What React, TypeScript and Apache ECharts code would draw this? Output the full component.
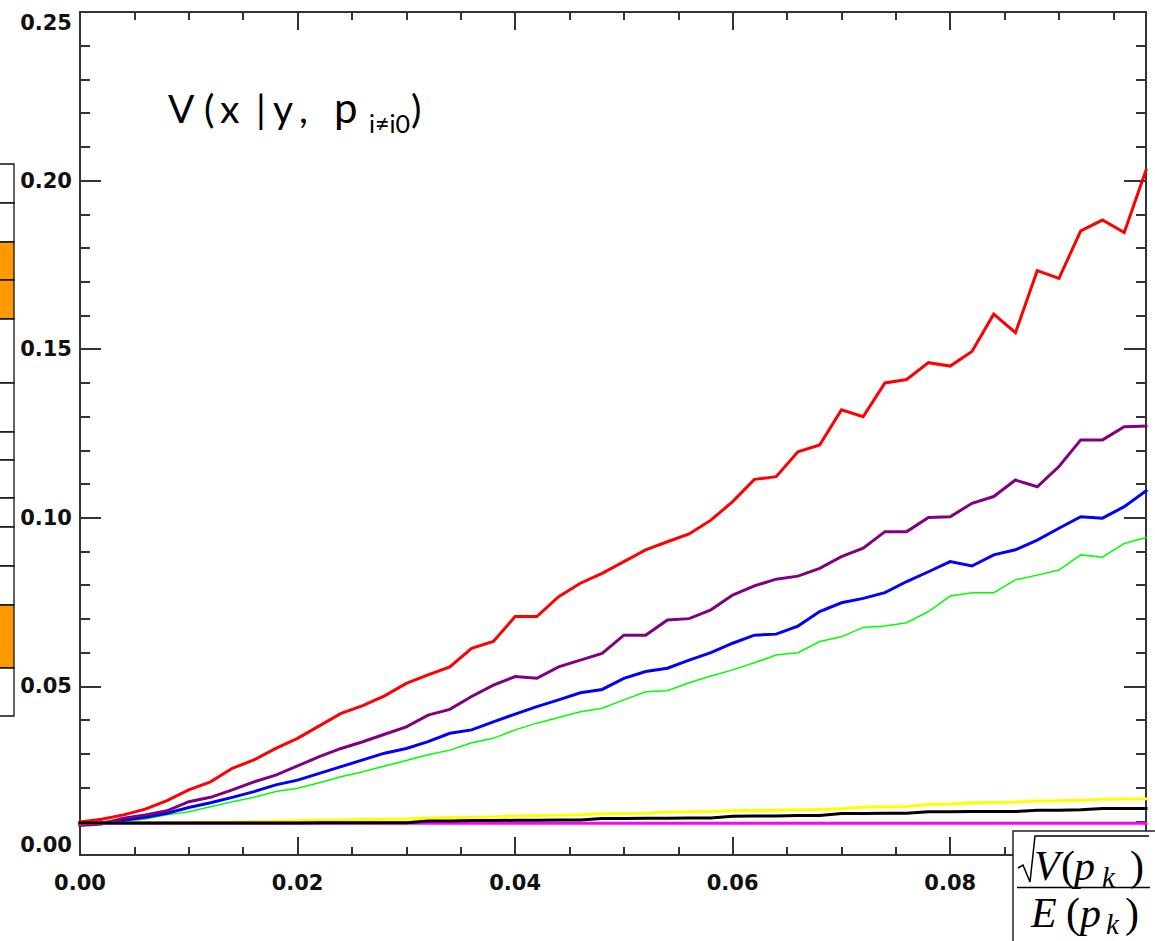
import React, { useEffect, useRef } from "react";
import * as echarts from "echarts";

// ---- data ----
const xValues = [
  0.0, 0.002, 0.004, 0.006, 0.008, 0.01, 0.012, 0.014, 0.016, 0.018,
  0.02, 0.022, 0.024, 0.026, 0.028, 0.03, 0.032, 0.034, 0.036, 0.038,
  0.04, 0.042, 0.044, 0.046, 0.048, 0.05, 0.052, 0.054, 0.056, 0.058,
  0.06, 0.062, 0.064, 0.066, 0.068, 0.07, 0.072, 0.074, 0.076, 0.078,
  0.08, 0.082, 0.084, 0.086, 0.088, 0.09, 0.092, 0.094, 0.096, 0.098,
];

const redValues = [
  0.0098, 0.0106, 0.0119, 0.0136, 0.0161, 0.0193, 0.0217, 0.0257, 0.0282, 0.0316,
  0.0346, 0.0383, 0.042, 0.0443, 0.0472, 0.0509, 0.0534, 0.0558, 0.0613, 0.0633,
  0.0707, 0.0707, 0.0766, 0.0806, 0.0835, 0.087, 0.0905, 0.0929, 0.0952, 0.0993,
  0.1048, 0.1114, 0.1122, 0.1196, 0.1216, 0.132, 0.13, 0.14, 0.141, 0.146,
  0.145, 0.1493, 0.1604, 0.1549, 0.1733, 0.171, 0.1851, 0.1883, 0.1846, 0.2031,
];

const purpleValues = [
  0.0088, 0.0092, 0.0109, 0.0119, 0.0131, 0.0158, 0.0171, 0.0193, 0.0217, 0.0237,
  0.0264, 0.0292, 0.0316, 0.0336, 0.0358, 0.038, 0.0415, 0.0432, 0.047, 0.0504,
  0.0529, 0.0524, 0.0558, 0.0578, 0.0598, 0.0652, 0.0652, 0.0697, 0.0701, 0.0727,
  0.0771, 0.0798, 0.0818, 0.0827, 0.085, 0.0885, 0.091, 0.0959, 0.0959, 0.1001,
  0.1003, 0.1043, 0.1063, 0.1112, 0.1092, 0.1152, 0.1231, 0.1231, 0.127, 0.1272,
];

const blueValues = [
  0.009, 0.0096, 0.0104, 0.0112, 0.0124, 0.0141, 0.0155, 0.0171, 0.0188, 0.0208,
  0.0222, 0.0242, 0.0262, 0.0282, 0.0302, 0.0316, 0.0336, 0.0361, 0.0371, 0.0395,
  0.0418, 0.044, 0.046, 0.0481, 0.0491, 0.0524, 0.0544, 0.0554, 0.0578, 0.06,
  0.0628, 0.0652, 0.0655, 0.0679, 0.0722, 0.0748, 0.0761, 0.0778, 0.0811, 0.084,
  0.087, 0.0857, 0.089, 0.0905, 0.0934, 0.0969, 0.1003, 0.0999, 0.1033, 0.108,
];

const greenValues = [
  0.0087, 0.0091, 0.0099, 0.0107, 0.0119, 0.0128, 0.0143, 0.0158, 0.0171, 0.0188,
  0.0198, 0.0214, 0.0232, 0.0247, 0.0264, 0.028, 0.0297, 0.0311, 0.0333, 0.0346,
  0.0371, 0.0391, 0.0408, 0.0425, 0.0435, 0.046, 0.0484, 0.0487, 0.0511, 0.0531,
  0.0549, 0.057, 0.0593, 0.06, 0.0633, 0.0647, 0.0675, 0.0679, 0.0689, 0.0722,
  0.0768, 0.0778, 0.0778, 0.0816, 0.083, 0.0845, 0.089, 0.0883, 0.0924, 0.0942,
];

const yellowValues = [
  0.0093, 0.0094, 0.0094, 0.0095, 0.0096, 0.0096, 0.0097, 0.0098, 0.0099, 0.01,
  0.0102, 0.0103, 0.0104, 0.0105, 0.0106, 0.0107, 0.011, 0.0111, 0.0112, 0.0113,
  0.0116, 0.0117, 0.0118, 0.0119, 0.0122, 0.0123, 0.0124, 0.0127, 0.0128, 0.0129,
  0.0131, 0.0132, 0.0133, 0.0134, 0.0135, 0.0137, 0.0142, 0.0143, 0.0144, 0.015,
  0.0151, 0.0155, 0.0156, 0.0157, 0.016, 0.0161, 0.0162, 0.0165, 0.0166, 0.0167,
];

const blackValues = [
  0.0095, 0.0095, 0.0095, 0.0095, 0.0095, 0.0095, 0.0095, 0.0095, 0.0095, 0.0095,
  0.0095, 0.0096, 0.0096, 0.0096, 0.0096, 0.0096, 0.0101, 0.0101, 0.0102, 0.0102,
  0.0103, 0.0103, 0.0104, 0.0104, 0.0108, 0.0108, 0.0109, 0.0109, 0.011, 0.011,
  0.0115, 0.0116, 0.0116, 0.0117, 0.0117, 0.0123, 0.0123, 0.0124, 0.0124, 0.0128,
  0.0128, 0.0129, 0.0129, 0.0129, 0.0133, 0.0133, 0.0134, 0.0138, 0.0138, 0.0138,
];

const magentaValues = [
  0.0094, 0.0094, 0.0094, 0.0094, 0.0094, 0.0094, 0.0094, 0.0094, 0.0094, 0.0094,
  0.0094, 0.0094, 0.0094, 0.0094, 0.0094, 0.0094, 0.0094, 0.0094, 0.0094, 0.0094,
  0.0094, 0.0094, 0.0094, 0.0094, 0.0094, 0.0094, 0.0094, 0.0094, 0.0094, 0.0094,
  0.0094, 0.0094, 0.0094, 0.0094, 0.0094, 0.0094, 0.0094, 0.0094, 0.0094, 0.0094,
  0.0094, 0.0094, 0.0094, 0.0094, 0.0094, 0.0094, 0.0094, 0.0094, 0.0094, 0.0094,
];

const xMin = 0;
const xMax = 0.098;
const xMajor = 0.02;
const xMinor = 0.005;
const yMin = 0;
const yMax = 0.25;
const yMajor = 0.05;
const yMinor = 0.01;

// left side strip (cell boundaries in px, orange cells by index)
const stripEdges = [164, 203, 242, 280, 319, 383, 432, 460, 498, 527, 566, 605, 668, 716];
const stripOrange = [2, 3, 11];

const AX = "#333333";

function pairs(vals: number[]) {
  return vals.map((v, i) => [xValues[i], v]);
}

function xAxisDef(position: string, interval: number, tickLen: number, labels: boolean, line: boolean) {
  return {
    type: "value",
    position,
    min: xMin,
    max: xMax,
    interval,
    axisLine: { show: line, onZero: false, lineStyle: { color: AX, width: 2 } },
    axisTick: { show: true, inside: true, length: tickLen, lineStyle: { color: AX, width: 2 } },
    axisLabel: {
      show: labels,
      margin: 17,
      fontFamily: "DejaVu Sans",
      fontWeight: "bold",
      fontSize: 21,
      color: "#111",
      showMaxLabel: false,
      formatter: (v: number) => v.toFixed(2),
    },
    splitLine: { show: false },
  };
}

function yAxisDef(position: string, interval: number, tickLen: number, labels: boolean, line: boolean) {
  return {
    type: "value",
    position,
    min: yMin,
    max: yMax,
    interval,
    axisLine: { show: line, onZero: false, lineStyle: { color: AX, width: 2 } },
    axisTick: { show: true, inside: true, length: tickLen, lineStyle: { color: AX, width: 2 } },
    axisLabel: {
      show: labels,
      margin: 8,
      fontFamily: "DejaVu Sans",
      fontWeight: "bold",
      fontSize: 21,
      color: "#111",
      verticalAlignMinLabel: "bottom",
      verticalAlignMaxLabel: "top",
      formatter: (v: number) => v.toFixed(2),
    },
    splitLine: { show: false },
  };
}

function lineSeries(name: string, vals: number[], color: string, width: number) {
  return {
    name,
    type: "line",
    data: pairs(vals),
    showSymbol: false,
    symbol: "none",
    smooth: false,
    lineStyle: { color, width, cap: "square", join: "miter" },
    itemStyle: { color },
    z: 2,
  };
}

function txt(text: string, x: number, y: number, font: string, z = 10) {
  return {
    type: "text",
    x,
    y,
    z,
    style: {
      text,
      font,
      fill: "#000",
      align: "left",
      verticalAlign: "middle",
      textAlign: "left",
      textVerticalAlign: "middle",
    },
  };
}

export default function App() {
  const ref = useRef<HTMLDivElement>(null);
  useEffect(() => {
    document.body.style.margin = "0";
    const chart = echarts.init(ref.current!, null, { renderer: "svg" });

    const titleFont = "39px Lato";
    const titleFontP = "42px Lato";
    const subFont = "25px Lato";
    const serifI = "italic 42px 'Liberation Serif'";
    const serifU = "42px 'Liberation Serif'";
    const serifSub = "italic 29px 'Liberation Serif'";

    const strip: any[] = [];
    for (let i = 0; i < stripEdges.length - 1; i++) {
      strip.push({
        type: "rect",
        z: 5,
        shape: { x: -10, y: stripEdges[i], width: 24, height: stripEdges[i + 1] - stripEdges[i] },
        style: { fill: stripOrange.includes(i) ? "#FF9900" : "#FFFFFF", stroke: "#111", lineWidth: 1.3 },
      });
    }

    const graphic: any[] = [
      ...strip,
      // title V(x | y, p_{i≠i0})
      txt("V", 168, 108, titleFont),
      txt("(", 204, 108, titleFont),
      txt("x", 220, 108, titleFont),
      txt("|", 256, 108, titleFont),
      txt("y", 273, 108, titleFont),
      txt(",", 299, 108, titleFont),
      txt("p", 334, 107, titleFontP),
      txt("i≠i0", 369, 123, subFont),
      txt(")", 411, 108, titleFont),
      // formula box
      {
        type: "rect",
        z: 50,
        shape: { x: 1013, y: 831, width: 160, height: 130 },
        style: { fill: "#fff", stroke: "#222", lineWidth: 1.5 },
      },
      {
        type: "polyline",
        z: 51,
        shape: { points: [[1018, 868], [1023, 865], [1030, 882], [1035, 836], [1149, 836]] },
        style: { stroke: "#000", lineWidth: 1.5, fill: null },
      },
      {
        type: "line",
        z: 51,
        shape: { x1: 1017, y1: 887.5, x2: 1150, y2: 887.5 },
        style: { stroke: "#000", lineWidth: 1.5 },
      },
      txt("V", 1034, 866, serifI, 52),
      txt("(", 1061, 866, serifU, 52),
      txt("p", 1074, 866, serifI, 52),
      txt("k", 1102, 877, serifSub, 52),
      txt(")", 1130, 866, serifU, 52),
      txt("E", 1031, 913, serifI, 52),
      txt("(", 1066, 913, serifU, 52),
      txt("p", 1080, 913, serifI, 52),
      txt("k", 1106, 924, serifSub, 52),
      txt(")", 1125, 913, serifU, 52),
    ];

    const option: any = {
      animation: false,
      backgroundColor: "#ffffff",
      grid: { left: 80, right: 9, top: 12, bottom: 86, containLabel: false },
      xAxis: [
        xAxisDef("bottom", xMajor, 18, true, true),
        xAxisDef("bottom", xMinor, 8, false, false),
        xAxisDef("top", xMajor, 18, false, true),
        xAxisDef("top", xMinor, 8, false, false),
      ],
      yAxis: [
        yAxisDef("left", yMajor, 21, true, true),
        yAxisDef("left", yMinor, 10, false, false),
        yAxisDef("right", yMajor, 22, false, true),
        yAxisDef("right", yMinor, 10, false, false),
      ],
      series: [
        lineSeries("green", greenValues, "#00FF00", 1.5),
        lineSeries("blue", blueValues, "#0000FF", 3),
        lineSeries("purple", purpleValues, "#800080", 3),
        lineSeries("red", redValues, "#FF0000", 3),
        lineSeries("yellow", yellowValues, "#FFFF00", 3),
        lineSeries("magenta", magentaValues, "#FF00FF", 3),
        lineSeries("black", blackValues, "#000000", 3),
      ],
      graphic,
    };
    chart.setOption(option);
    return () => chart.dispose();
  }, []);
  return <div ref={ref} style={{ width: 1155, height: 941, background: "#fff" }} />;
}
